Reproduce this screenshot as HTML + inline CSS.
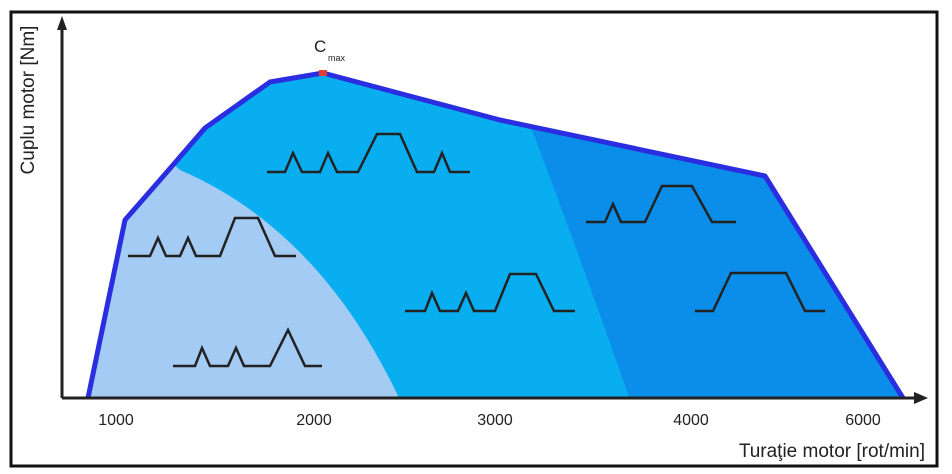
<!DOCTYPE html>
<html><head><meta charset="utf-8"><style>
html,body{margin:0;padding:0;background:#fff;width:952px;height:474px;overflow:hidden}
svg{display:block}
text{font-family:"Liberation Sans",sans-serif;fill:#222}
</style></head><body>
<svg width="952" height="474" viewBox="0 0 952 474">
<rect x="11" y="12" width="926" height="454" fill="#fff" stroke="#111" stroke-width="3"/>
<defs><clipPath id="c"><polygon points="88,398 125,220 160,180 205,128 270,82 323,73 500,120 765,176 903,398"/></clipPath></defs>
<g clip-path="url(#c)">
<rect x="60" y="60" width="860" height="340" fill="#09aef0"/>
<path d="M505,60 Q560,200 630,400 L920,400 L920,60 Z" fill="#0a8ee9"/>
<path d="M60,400 L60,60 L180,170 Q320,230 400,400 Z" fill="#a3cbf3"/>
</g>
<polyline points="88,398 125,220 160,180 205,128 270,82 323,73 500,120 765,176 903,398" fill="none" stroke="#2a2ee0" stroke-width="5" stroke-linejoin="round"/>
<rect x="319" y="70" width="8" height="6" fill="#e04030"/>
<g fill="none" stroke="#222" stroke-width="2.5">
<polyline points="267,172 285,172 293,153 302,172 320,172 328,153 337,172 358,172 377,134 400,134 417,172 434,172 442,153 450,172 470,172"/>
<polyline points="128,256 150,256 158,238 166,256 180,256 188,238 196,256 220,256 235,218 258,218 275,256 296,256"/>
<polyline points="173,366 195,366 202,348 210,366 228,366 236,348 244,366 270,366 288,330 305,366 322,366"/>
<polyline points="405,311 425,311 432,293 440,311 458,311 466,293 474,311 495,311 510,274 536,274 554,311 575,311"/>
<polyline points="586,222 605,222 613,204 621,222 645,222 662,186 692,186 712,222 736,222"/>
<polyline points="695,311 713,311 731,273 786,273 805,311 825,311"/>
</g>
<line x1="62" y1="398" x2="918" y2="398" stroke="#222" stroke-width="3"/>
<polygon points="928,398 914,392 914,404" fill="#222"/>
<line x1="62" y1="398" x2="62" y2="26" stroke="#222" stroke-width="3"/>
<polygon points="62,16 57,30 67,30" fill="#222"/>
<text x="314" y="52" font-size="17">C</text>
<text x="328" y="61" font-size="9" fill="#888">max</text>
<g font-size="16" text-anchor="middle">
<text x="116" y="425">1000</text><text x="314" y="425">2000</text>
<text x="495" y="425">3000</text><text x="691" y="425">4000</text><text x="863" y="425">6000</text>
</g>
<text x="925" y="457" font-size="19" text-anchor="end">Turaţie motor [rot/min]</text>
<text transform="translate(34,100) rotate(-90)" font-size="19" text-anchor="middle">Cuplu motor [Nm]</text>
</svg>
</body></html>
